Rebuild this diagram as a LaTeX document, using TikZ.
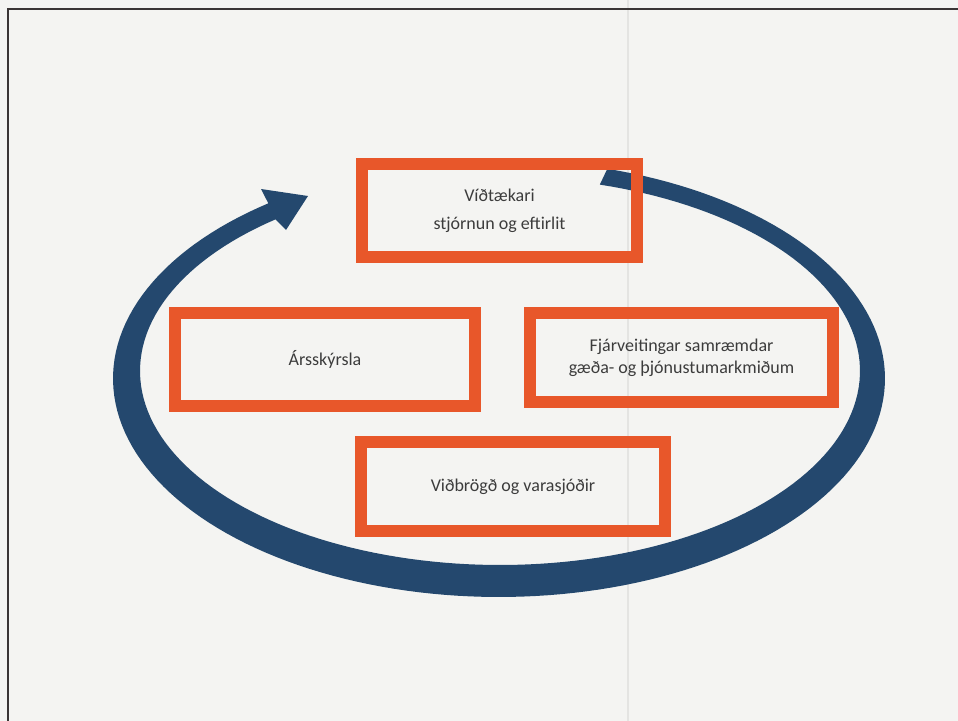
\documentclass[tikz,border=0pt]{standalone}
\usepackage{fontspec}
\setmainfont{Carlito}
\definecolor{ringblue}{HTML}{24486E}
\definecolor{boxorange}{HTML}{E8572A}
\definecolor{txtgray}{HTML}{3C3C3C}
\definecolor{pagebg}{HTML}{F4F4F2}
\definecolor{frameline}{HTML}{3A3535}
\definecolor{foldline}{HTML}{E4E4E2}
\tikzset{
  obox/.style={draw=boxorange, line width=9pt, align=center, text=txtgray,
    font=\fontsize{13.5}{21}\selectfont, inner sep=0pt},
}
\begin{document}
\begin{tikzpicture}[x=0.75pt, y=-0.75pt]
% page
\fill[pagebg] (0,0) rectangle (958,721);
\useasboundingbox (0,0) rectangle (958,721);
% fold line
\coordinate (ft) at (628,0);
\coordinate (fb) at (628,721);
\draw[foldline, line width=1pt] (ft) -- (fb);
% frame
\coordinate (fr1) at (958,9);
\coordinate (fr2) at (8,9);
\coordinate (fr3) at (8,721);
\draw[frameline, line width=2pt] (fr1) -- (fr2) -- (fr3);
% cyclic arrow
\fill[ringblue]
  plot[domain=-73.7:233.3, samples=160] ({499+386*cos(\x)}, {378.5+218.5*sin(\x)})
  -- (261,189) -- (308,196) -- (286,230)
  -- plot[domain=231.4:-73.9, samples=160] ({500+360*cos(\x)}, {371+194*sin(\x)})
  -- cycle;
% boxes
\node[obox, minimum width=206.25pt, minimum height=69.75pt] (b1) at (499.5,210.5)
  {Víðtækari\\stjórnun og eftirlit};
\node[obox, minimum width=225pt, minimum height=69.75pt] (b2) at (325,359.5)
  {Ársskýrsla};
\node[obox, minimum width=227.25pt, minimum height=66.75pt, font=\fontsize{13.5}{16.5}\selectfont] (b3) at (681.5,357.5)
  {Fjárveitingar samræmdar\\gæða- og þjónustumarkmiðum};
\node[obox, minimum width=228pt, minimum height=66.75pt] (b4) at (513,486.5)
  {Viðbrögð og varasjóðir};
\end{tikzpicture}
\end{document}
